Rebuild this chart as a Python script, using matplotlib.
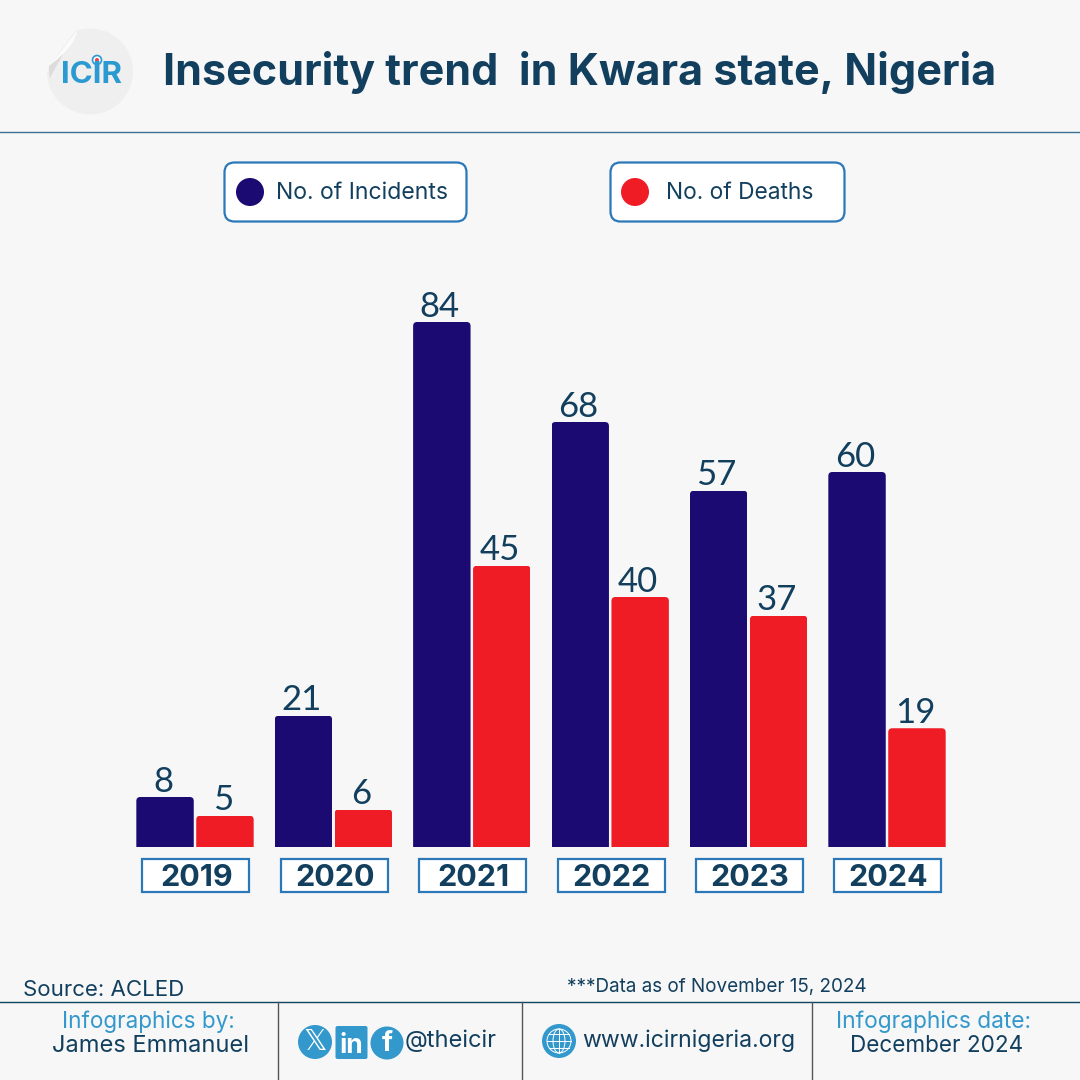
import matplotlib
matplotlib.use('Agg')
import matplotlib.pyplot as plt
from matplotlib.patches import Circle, Ellipse, FancyBboxPatch, PathPatch, Rectangle
from matplotlib.path import Path
from matplotlib.transforms import ScaledTranslation

years = ['2019', '2020', '2021', '2022', '2023', '2024']
incidents = [8, 21, 84, 68, 57, 60]
deaths = [5, 6, 45, 40, 37, 19]

BG = '#f7f7f7'
NAVY = '#1c0a73'
RED = '#ef1c25'
INK = '#123f5e'
BLUE = '#3398cc'
EDGE = '#2a78b8'
FONT = 'Inter'

fig = plt.figure(figsize=(10.8, 10.8), dpi=100, facecolor=BG)

# page furniture is laid out in pixels, y pointing down
page = fig.add_axes([0, 0, 1, 1], zorder=1)
page.set_xlim(0, 1080)
page.set_ylim(1080, 0)
page.axis('off')


def label(x, y, s, size, color=INK, ha='center', weight='normal', family=FONT):
    return page.text(x, y, s, fontsize=size, color=color, ha=ha, va='center',
                     fontweight=weight, family=family)


def rounded_box(x0, y0, x1, y1, r, lw=1.5, fc='white', ec=EDGE):
    page.add_patch(FancyBboxPatch((x0 + r, y0 + r), x1 - x0 - 2 * r, y1 - y0 - 2 * r,
                                  boxstyle='round,pad=%f,rounding_size=%f' % (r, r),
                                  fc=fc, ec=ec, lw=lw))


# logo sticker with the peeled corner
page.add_patch(Circle((90, 71.5), 43, fc='#efefef', ec='none'))
page.add_patch(PathPatch(Path([(44, 30), (78, 28), (62, 46), (47, 72), (40, 74), (44, 30)],
                              [1, 2, 3, 3, 2, 79]), fc=BG, ec='none'))
page.add_patch(PathPatch(Path([(78, 29), (72, 50), (49, 66), (49, 74), (50, 78), (58, 62), (78, 29)],
                              [1, 3, 3, 2, 2, 3, 3]), fc='#dcdcdc', ec='none'))
page.add_patch(PathPatch(Path([(78, 29), (74, 48), (52, 63), (62, 50), (78, 29)],
                              [1, 3, 3, 3, 3]), fc='#fbfbfb', ec='none'))
label(91.5, 75, 'ICIR', 22.5, color='#2a9ad0', weight='bold')
page.add_patch(Circle((97, 60), 4.5, fc='white', ec='#2a9ad0', lw=1.2))
page.add_patch(Circle((97, 60), 2, fc='#e8434f', ec='none'))

label(163, 73, 'Insecurity trend  in Kwara state, Nigeria', 31, ha='left', weight='bold')
page.plot([0, 1080], [132, 132], color='#3d6f94', lw=1)

# legend
rounded_box(224.5, 162.5, 466.5, 221.5, 10, lw=1.6)
rounded_box(610.5, 162.5, 844.5, 221.5, 10, lw=1.6)
page.add_patch(Circle((250, 192), 14, fc=NAVY, ec='none'))
page.add_patch(Circle((635, 192), 14, fc=RED, ec='none'))
label(276, 193, 'No. of Incidents', 16.6, ha='left')
label(666, 193, 'No. of Deaths', 16.4, ha='left')

# year boxes sit behind the tick labels of the chart axes
for left in [142, 281, 419, 558, 696, 834]:
    page.add_patch(Rectangle((left, 858.5), 107, 33, fc='white', ec=EDGE, lw=1.6))

# one category step is 138.4 px, one unit of value is 6.25 px; baseline at y=847
chart = fig.add_axes([0, 233 / 1080, 1, 614 / 1080], zorder=2)
chart.patch.set_alpha(0)
chart.set_xlim(-195 / 138.4, (1080 - 195) / 138.4)
chart.set_ylim(0, 614 / 6.25)
for side in chart.spines.values():
    side.set_visible(False)
chart.set_yticks([])
chart.set_xticks(range(len(years)), years, fontsize=22, fontweight='bold',
                 color=INK, family=FONT)
chart.tick_params(axis='x', length=0, pad=12.5)
for tick_label in chart.get_xticklabels():
    tick_label.set_transform(tick_label.get_transform()
                             + ScaledTranslation(1.5 / 100, 0, fig.dpi_scale_trans))

width = 0.415
offset = 0.2165
pos = list(range(len(years)))
for values, shift, color in [(incidents, -offset, NAVY), (deaths, offset, RED)]:
    bars = chart.bar([p + shift for p in pos], values, width, color=color)
    for bar, v in zip(bars, values):
        x0, x1 = bar.get_x(), bar.get_x() + bar.get_width()
        rx, ry = 4 / 138.4, 4 / 6.25
        # round the two top corners
        clip = PathPatch(Path([(x0, 0), (x0, v - ry), (x0, v), (x0 + rx, v), (x1 - rx, v),
                               (x1, v), (x1, v - ry), (x1, 0), (x0, 0)],
                              [1, 2, 3, 3, 2, 3, 3, 2, 79]),
                         transform=chart.transData, fc='none', ec='none')
        chart.add_patch(clip)
        bar.set_clip_path(clip)
        chart.annotate(str(v), (bar.get_x() + bar.get_width() / 2, v), xytext=(-1.5, -0.5),
                       textcoords='offset points', ha='center', va='bottom',
                       fontsize=25, color=INK, family='Lato')

# footer
label(23, 990, 'Source: ACLED', 16, ha='left')
label(567, 987, '***Data as of November 15, 2024', 13.6, ha='left')
page.plot([0, 1080], [1002, 1002], color='#0f4560', lw=1)
for xv in [278, 522, 812]:
    page.plot([xv, xv], [1002, 1080], color='#555555', lw=1)

label(148, 1022, 'Infographics by:', 16.2, color=BLUE)
label(150, 1046, 'James Emmanuel', 17)
label(934, 1022, 'Infographics date:', 16.4, color=BLUE)
label(937, 1046, 'December 2024', 16.2)
label(405, 1041, '@theicir', 17, ha='left')
label(582, 1041, 'www.icirnigeria.org', 16.6, ha='left')

# social icons
page.add_patch(Circle((315, 1042), 17, fc=BLUE, ec='none'))
label(315, 1042, '\U0001D54F', 21, color='white', family='DejaVu Sans')
page.add_patch(FancyBboxPatch((337.5, 1028), 28, 29, boxstyle='round,pad=2,rounding_size=2',
                              fc=BLUE, ec='none'))
label(351.5, 1046, 'in', 19, color='white', weight='bold')
page.add_patch(Circle((387, 1043), 16.5, fc=BLUE, ec='none'))
label(387, 1044, 'f', 20, color='white', weight='bold')

# globe
page.add_patch(Circle((559, 1041), 17, fc=BLUE, ec='none'))
page.add_patch(Circle((559, 1041), 12, fc='none', ec='white', lw=0.7))
page.add_patch(Ellipse((559, 1041), 12, 24, fc='none', ec='white', lw=0.7))
page.plot([559, 559], [1029, 1053], color='white', lw=0.7)
page.plot([547, 571], [1041, 1041], color='white', lw=0.7)
page.plot([549, 569], [1034, 1034], color='white', lw=0.7)
page.plot([549, 569], [1048, 1048], color='white', lw=0.7)
page.set_xlim(0, 1080)
page.set_ylim(1080, 0)

fig.savefig('out.png', dpi=100, facecolor=BG)
